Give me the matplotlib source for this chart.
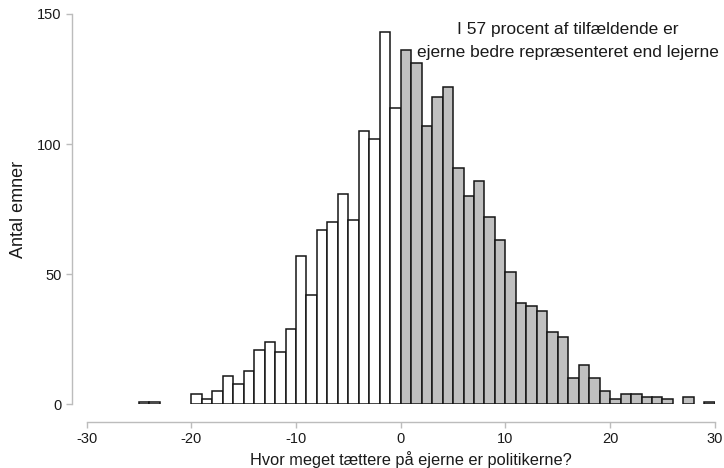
import numpy as np
import matplotlib
matplotlib.use("Agg")
import matplotlib.pyplot as plt

plt.rcParams['font.family'] = ['Liberation Sans', 'DejaVu Sans']
plt.rcParams['axes.unicode_minus'] = False

# left edge of each 1-unit bin and the count in it
bin_left = list(range(-25, 30))
counts = [1, 1, 0, 0, 0, 4, 2, 5, 11, 8, 13, 21, 24, 20, 29, 57, 42, 67, 70, 81,
          71, 105, 102, 143, 114,
          136, 131, 107, 118, 122, 91, 80, 86, 72, 63, 51, 39, 38, 36, 28, 26,
          10, 15, 10, 5, 2, 4, 4, 3, 3, 2, 0, 3, 0, 1]
x_ticks = [-30, -20, -10, 0, 10, 20, 30]
y_ticks = [0, 50, 100, 150]
note_line1 = "I 57 procent af tilfældende er"
note_line2 = "ejerne bedre repræsenteret end lejerne"
x_label = "Hvor meget tættere på ejerne er politikerne?"
y_label = "Antal emner"

fig = plt.figure(figsize=(7.24, 4.68), dpi=100)
ax = fig.add_axes([0.1196, 0.1357, 0.8677, 0.8344])

left = np.array(bin_left)
h = np.array(counts)
keep = h > 0
fills = np.where(left < 0, 'white', '#c0c0c0')
ax.bar(left[keep], h[keep], width=1, align='edge', color=fills[keep],
       edgecolor='#151515', linewidth=1.1)

ax.set_xlim(-30, 30)
ax.set_ylim(0, 150)
ax.set_xticks(x_ticks)
ax.set_yticks(y_ticks)

for s in ['top', 'right']:
    ax.spines[s].set_visible(False)
ax.spines['left'].set_position(('outward', 10.5))
ax.spines['bottom'].set_position(('outward', 12.6))
ax.spines['left'].set_bounds(0, 150)
ax.spines['bottom'].set_bounds(-30, 30)
for s in ['left', 'bottom']:
    ax.spines[s].set_color('#bcbcbc')
    ax.spines[s].set_linewidth(1.0)
ax.tick_params(axis='both', colors='#bcbcbc', labelcolor='#1a1a1a',
               length=4.5, width=1.0, labelsize=10.5, pad=3)

ax.set_xlabel(x_label, fontsize=11.8, color='#1a1a1a')
ax.xaxis.set_label_coords(0.516, -0.118)
ax.set_ylabel(y_label, fontsize=13, color='#1a1a1a', labelpad=7)

ax.text(16, 143.9, note_line1, ha='center', va='center', fontsize=12.5, color='#1a1a1a')
ax.text(16, 135.4, note_line2, ha='center', va='center', fontsize=12.5, color='#1a1a1a')

fig.savefig("out.png", dpi=100)
